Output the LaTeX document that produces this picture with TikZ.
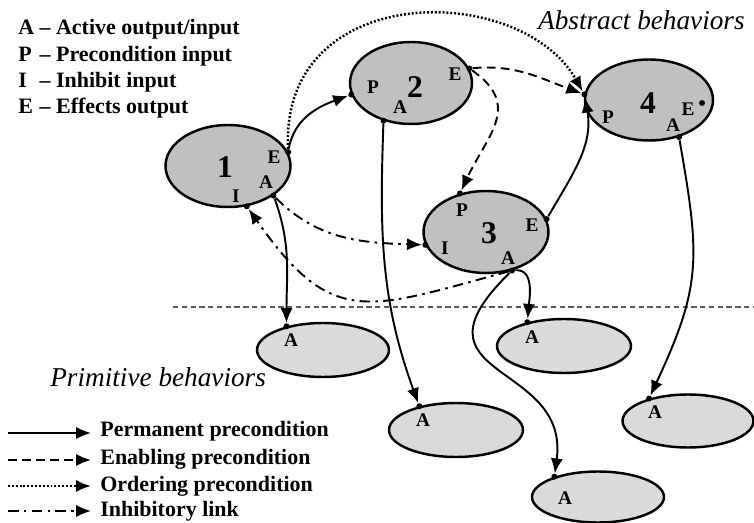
\documentclass[tikz,border=0pt]{standalone}
\usepackage{fontspec}
\setmainfont{Liberation Serif}
\usetikzlibrary{shapes.geometric,arrows.meta,positioning}
\definecolor{absgray}{RGB}{192,192,192}
\definecolor{primgray}{RGB}{218,218,218}

\begin{document}
\begin{tikzpicture}[
    x=0.02cm, y=0.02cm,
    abstract/.style={ellipse, draw, line width=1.4pt, fill=absgray, minimum width=2.5cm, minimum height=1.64cm, inner sep=0pt},
    primitive/.style={ellipse, draw, line width=1.4pt, fill=primgray, minimum width=2.66cm, minimum height=1.08cm, inner sep=0pt},
    port/.style={circle, fill=black, inner sep=0pt, minimum size=3.4pt},
    portlbl/.style={font=\bfseries\fontsize{11}{12}\selectfont, inner sep=0pt},
    num/.style={font=\bfseries\fontsize{18}{20}\selectfont, inner sep=0pt},
    perm/.style={line width=1.1pt, -{Latex[length=8.5pt, width=7pt]}},
    enab/.style={perm, dash pattern=on 5pt off 3pt},
    order/.style={perm, line width=1.4pt, dash pattern=on 1.1pt off 1.1pt},
    inhib/.style={perm, dash pattern=on 6pt off 3pt on 1.5pt off 3pt},
    legend/.style={font=\bfseries\fontsize{12.5}{14}\selectfont, anchor=base west, inner sep=0pt},
    layer/.style={font=\itshape\fontsize{15.5}{17}\selectfont, inner sep=0pt}
]
\useasboundingbox (0,0) rectangle (754,-523);

% Layer separator
\coordinate (sepl) at (173,-307);
\coordinate (sepr) at (754,-307);
\draw[gray!70!black, line width=0.6pt, dash pattern=on 3pt off 2pt] (sepl) -- (sepr);

% Abstract behaviors
\node (b1) [abstract] at (228,-166) {};
\node (b2) [abstract, minimum width=2.44cm] at (411,-83) {};
\node (b3) [abstract] at (486,-232) {};
\node (b4) [abstract, minimum width=2.56cm, minimum height=1.62cm] at (649,-100) {};

% Primitive behaviors
\node (p1) [primitive, minimum width=2.64cm] at (323,-350) {};
\node (p2) [primitive, minimum width=2.68cm] at (564,-346) {};
\node (p3) [primitive, minimum width=2.68cm] at (456,-430) {};
\node (p4) [primitive, minimum width=2.62cm, minimum height=1.06cm] at (688,-421) {};
\node (p5) [primitive, minimum width=2.64cm, minimum height=1.02cm] at (598,-497) {};

% Ports
\node (b1e) [port] at (b1.13) {};
\node (b1a) [port] at (b1.-33) {};
\node (b1i) [port] at (b1.-65) {};
\node (b2p) [port] at (b2.191) {};
\node (b2a) [port] at (b2.234) {};
\node (b2e) [port] at (b2.14) {};
\node (b3p) [port] at (b3.124) {};
\node (b3e) [port] at (b3.12) {};
\node (b3i) [port] at (b3.192) {};
\node (b3a) [port] at (b3.-56) {};
\node (b4p) [port] at (b4.175) {};
\node (b4a) [port] at (b4.-51) {};
\node (b4e) [port] at (702,-103) {};
\node (p1a) [port] at (p1.147) {};
\node (p2a) [port] at (p2.147) {};
\node (p3a) [port] at (p3.147) {};
\node (p4a) [port] at (p4.150) {};
\node (p5a) [port] at (p5.155) {};

% Labels
\node [num] at (225,-167) {1};
\node [num] at (415,-87) {2};
\node [num] at (489,-233) {3};
\node [num] at (648,-103) {4};
\node [portlbl] at (274,-157) {E};
\node [portlbl] at (266,-182) {A};
\node [portlbl] at (236,-196) {I};
\node [portlbl] at (373,-87) {P};
\node [portlbl] at (400,-107) {A};
\node [portlbl] at (455,-74) {E};
\node [portlbl] at (462,-210) {P};
\node [portlbl] at (532,-225) {E};
\node [portlbl] at (445,-248) {I};
\node [portlbl] at (508,-258) {A};
\node [portlbl] at (688,-109) {E};
\node [portlbl] at (608,-117) {P};
\node [portlbl] at (673,-125) {A};
\node [portlbl] at (291,-340) {A};
\node [portlbl] at (532,-337) {A};
\node [portlbl] at (423,-420) {A};
\node [portlbl] at (655,-412) {A};
\node [portlbl] at (565,-498) {A};

\node (abs) [layer, anchor=base east] at (745,-30) {Abstract behaviors};
\node (prim) [layer, anchor=base west] at (50,-387) {Primitive behaviors};

% Links
\draw[perm] (b1e) to[out=80, in=200] (b2p);
\draw[order] (b1e) .. controls (280,20) and (520,19) .. (b4p);
\draw[enab] (b2e) to[out=5, in=160] (b4p);
\draw[enab] (b2e) to[out=-35, in=65, looseness=1.3] (b3p);
\draw[perm] (b3e) to[out=60, in=-80] (b4p);
\draw[inhib] (b1a) to[out=-45, in=178] (b3i);
\draw[inhib] (b3a) to[out=195, in=-55, looseness=1.4] (b1i);
\draw[perm] (b1a) to[out=-70, in=90] (p1a);
\draw[perm] (b2a) to[out=-92, in=110] (p3a);
\draw[perm] (b3a) to[out=5, in=85] (p2a);
\draw[perm] (b3a) .. controls (400,-380) and (570,-360) .. (p5a);
\draw[perm] (b4a) to[out=-80, in=65, looseness=1.2] (p4a);

% Port legend
\node (k1) [legend] at (18,-35) {\makebox[0.72em][l]{A} – Active output/input};
\node (k2) [legend] at (18,-62) {\makebox[0.72em][l]{P} – Precondition input};
\node (k3) [legend] at (18,-88) {\makebox[0.72em][l]{I} – Inhibit input};
\node (k4) [legend] at (18,-114) {\makebox[0.72em][l]{E} – Effects output};

% Link legend
\node (t1) [legend] at (100,-437) {Permanent precondition};
\node (t2) [legend] at (100,-464) {Enabling precondition};
\node (t3) [legend] at (100,-491) {Ordering precondition};
\node (t4) [legend] at (100,-516) {Inhibitory link};
\coordinate (s1) at (8,-433);  \coordinate (e1) at (91,-433);
\coordinate (s2) at (8,-460);  \coordinate (e2) at (91,-460);
\coordinate (s3) at (8,-486);  \coordinate (e3) at (91,-486);
\coordinate (s4) at (8,-511);  \coordinate (e4) at (91,-511);
\draw[perm] (s1) -- (e1);
\draw[enab] (s2) -- (e2);
\draw[order] (s3) -- (e3);
\draw[inhib] (s4) -- (e4);

\end{tikzpicture}
\end{document}
